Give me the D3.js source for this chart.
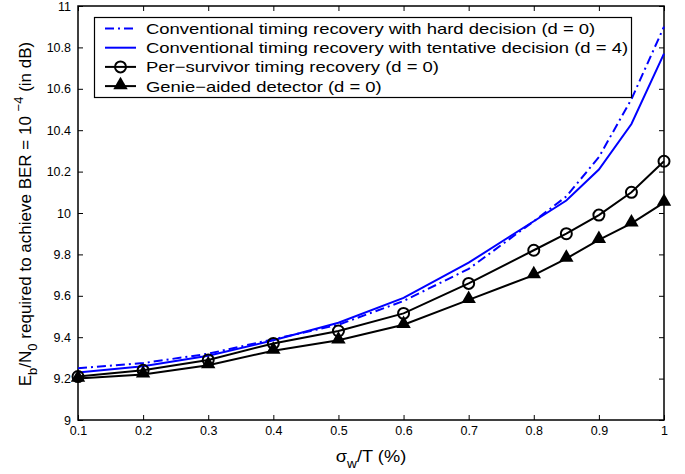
<!DOCTYPE html>
<html>
<head>
<meta charset="utf-8">
<script src="https://cdn.jsdelivr.net/npm/d3@7"></script>
<style>
  body { margin: 0; background: #fff; }
  svg { font-family: "Liberation Sans", Arial, sans-serif; }
</style>
</head>
<body>
<svg id="chart" width="685" height="474"></svg>
<script>
// ------------ DATA -----------------

const sigma = [0.1, 0.2, 0.3, 0.4, 0.5, 0.6, 0.7, 0.8, 0.85, 0.9, 0.95, 1];

const hardDecision = [9.25, 9.275, 9.32, 9.39, 9.46, 9.575, 9.73, 9.96, 10.08, 10.27, 10.55, 10.9];
const tentativeDecision = [9.23, 9.26, 9.31, 9.385, 9.47, 9.59, 9.76, 9.96, 10.06, 10.21, 10.43, 10.77];
const perSurvivor = [9.21, 9.24, 9.29, 9.37, 9.43, 9.515, 9.66, 9.82, 9.9, 9.99, 10.1, 10.25];
const genieAided = [9.2, 9.22, 9.265, 9.335, 9.385, 9.46, 9.58, 9.7, 9.78, 9.87, 9.95, 10.05];

const xTicks = [0.1, 0.2, 0.3, 0.4, 0.5, 0.6, 0.7, 0.8, 0.9, 1];
const yTicks = [9, 9.2, 9.4, 9.6, 9.8, 10, 10.2, 10.4, 10.6, 10.8, 11];

const seriesNames = [
  "Conventional timing recovery with hard decision (d = 0)",
  "Conventional timing recovery with tentative decision (d = 4)",
  "Per\u2212survivor timing recovery (d = 0)",
  "Genie\u2212aided detector (d = 0)"
];

const series = [
  { name: seriesNames[0], values: hardDecision, color: "#0000ff", dash: "9,4,2,4", marker: null },
  { name: seriesNames[1], values: tentativeDecision, color: "#0000ff", dash: null, marker: null },
  { name: seriesNames[2], values: perSurvivor, color: "#000", dash: null, marker: "circle" },
  { name: seriesNames[3], values: genieAided, color: "#000", dash: null, marker: "triangle" }
];

// ------------ SETUP -----------------

const svg = d3.select("#chart");
const plotLeft = 78, plotRight = 664, plotTop = 6, plotBottom = 420;

const x = d3.scaleLinear().domain([0.1, 1]).range([plotLeft, plotRight]);
const y = d3.scaleLinear().domain([9, 11]).range([plotBottom, plotTop]);

// ------------ AXES -----------------

const fmt = d => String(d);

svg.append("g")
  .attr("transform", `translate(0,${plotBottom})`)
  .call(d3.axisBottom(x).tickValues(xTicks).tickFormat(fmt).tickSizeInner(-5).tickSizeOuter(0).tickPadding(6));

svg.append("g")
  .attr("transform", `translate(0,${plotTop})`)
  .call(d3.axisTop(x).tickValues(xTicks).tickFormat("").tickSizeInner(-5).tickSizeOuter(0));

svg.append("g")
  .attr("transform", `translate(${plotLeft},0)`)
  .call(d3.axisLeft(y).tickValues(yTicks).tickFormat(fmt).tickSizeInner(-5).tickSizeOuter(0).tickPadding(7));

svg.append("g")
  .attr("transform", `translate(${plotRight},0)`)
  .call(d3.axisRight(y).tickValues(yTicks).tickFormat("").tickSizeInner(-5).tickSizeOuter(0));

svg.selectAll(".domain").remove();
svg.selectAll(".tick line").attr("stroke", "#000");
svg.selectAll(".tick text").attr("fill", "#000").style("font-size", "12.5px");

svg.append("rect")
  .attr("x", plotLeft).attr("y", plotTop)
  .attr("width", plotRight - plotLeft).attr("height", plotBottom - plotTop)
  .attr("fill", "none").attr("stroke", "#000").attr("stroke-width", 1.5);

// ------------ LINES -----------------

const line = d3.line().x((d, i) => x(sigma[i])).y(d => y(d));

const triangle = d3.symbol().type(d3.symbolTriangle).size(90);

function drawMarkers(g, s, pts) {
  if (s.marker === "circle") {
    g.selectAll("circle").data(pts).join("circle")
      .attr("cx", d => d[0]).attr("cy", d => d[1]).attr("r", 5.5)
      .attr("fill", "none").attr("stroke", "#000").attr("stroke-width", 2);
  } else if (s.marker === "triangle") {
    g.selectAll("path.m").data(pts).join("path").attr("class", "m")
      .attr("d", triangle)
      .attr("transform", d => `translate(${d[0]},${d[1] - 1})`)
      .attr("fill", "#000");
  }
}

series.forEach(s => {
  const g = svg.append("g");
  g.append("path")
    .attr("d", line(s.values))
    .attr("fill", "none")
    .attr("stroke", s.color)
    .attr("stroke-width", 2)
    .attr("stroke-dasharray", s.dash);
  drawMarkers(g, s, s.values.map((v, i) => [x(sigma[i]), y(v)]));
});

// ------------ LEGEND -----------------

const legend = svg.append("g");
legend.append("rect")
  .attr("x", 94.5).attr("y", 17.5).attr("width", 537).attr("height", 80)
  .attr("fill", "#fff").attr("stroke", "#000").attr("stroke-width", 1.2);

series.forEach((s, i) => {
  const ly = 28.5 + i * 19.2;
  const g = legend.append("g");
  g.append("line")
    .attr("x1", 105).attr("x2", 136).attr("y1", ly).attr("y2", ly)
    .attr("stroke", s.color).attr("stroke-width", 2)
    .attr("stroke-dasharray", s.dash);
  drawMarkers(g, s, [[120.5, ly]]);
  g.append("text")
    .attr("transform", `translate(146,${ly + 5.5}) scale(1.23,1)`)
    .style("font-size", "15px")
    .text(s.name);
});

// ------------ AXIS LABELS -----------------

const xl = svg.append("text")
  .attr("transform", "translate(371,462) scale(1.14,1)")
  .attr("text-anchor", "middle")
  .style("font-size", "16px");
xl.append("tspan").text("\u03c3");
xl.append("tspan").attr("dy", 6).style("font-size", "12px").text("w");
xl.append("tspan").attr("dy", -6).text("/T (%)");

const yl = svg.append("text")
  .attr("transform", "translate(31,214) rotate(-90)")
  .attr("text-anchor", "middle")
  .style("font-size", "17px");
yl.append("tspan").text("E");
yl.append("tspan").attr("dy", 6).style("font-size", "13px").text("b");
yl.append("tspan").attr("dy", -6).text("/N");
yl.append("tspan").attr("dy", 6).style("font-size", "13px").text("0");
yl.append("tspan").attr("dy", -6).text(" required to achieve BER = 10 ");
yl.append("tspan").attr("dy", -8).style("font-size", "13px").text("\u22124");
yl.append("tspan").attr("dy", 8).text(" (in dB)");
</script>
</body>
</html>
